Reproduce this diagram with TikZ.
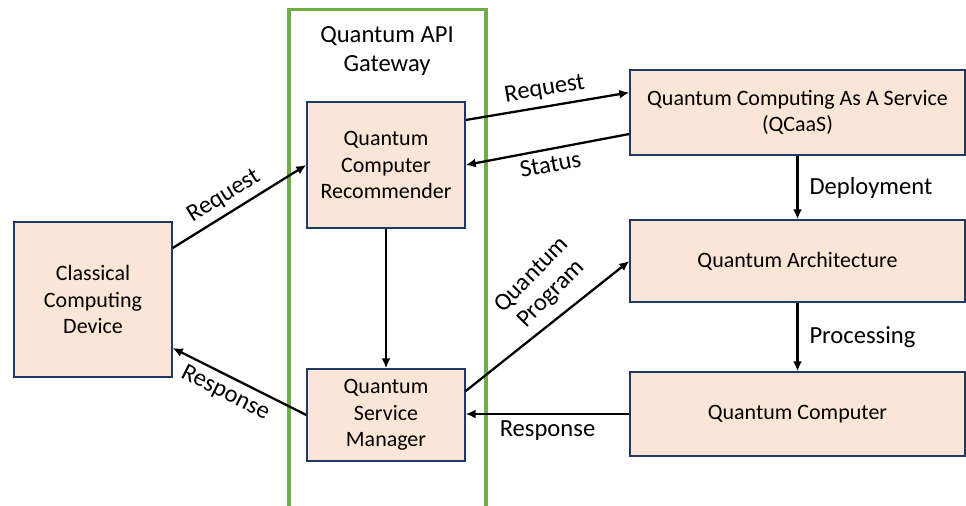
\documentclass[tikz,border=0pt]{standalone}
\usepackage{fontspec}
\setmainfont{Carlito}
\usetikzlibrary{arrows.meta}
\definecolor{boxfill}{HTML}{FBE5D6}
\definecolor{boxline}{HTML}{203864}
\definecolor{gatewaygreen}{HTML}{70AD47}
\begin{document}
\begin{tikzpicture}[>={Latex[length=2mm,width=1.8mm]},
        font=\fontsize{14}{16.5}\selectfont,
        compbox/.style={draw=boxline, fill=boxfill, line width=0.8pt, align=center, font=\fontsize{12.5}{15}\selectfont},
        flow/.style={->, line width=1.3pt}]
        \useasboundingbox (0,0) rectangle (19.32,-10.1);
        
        % gateway frame, open at the bottom
        \draw[gatewaygreen, line width=2pt] (5.78,-10.2) -- (5.78,-0.19) -- (9.72,-0.19) -- (9.72,-10.2);
        \node[align=center] (gw) at (7.74,-1.02) {Quantum API\\Gateway};
        
        \node[compbox, minimum width=3.16cm, minimum height=3.10cm] (cls) at (1.86,-5.99) {Classical\\Computing\\Device};
        \node[compbox, minimum width=3.16cm, minimum height=2.52cm] (qcr) at (7.72,-3.30) {Quantum\\Computer\\Recommender};
        \node[compbox, minimum width=3.16cm, minimum height=1.84cm] (qsm) at (7.72,-8.30) {Quantum\\Service\\Manager};
        \node[compbox, minimum width=6.70cm, minimum height=1.70cm] (qcaas) at (15.95,-2.25) {Quantum Computing As A Service\\(QCaaS)};
        \node[compbox, minimum width=6.70cm, minimum height=1.64cm] (qa) at (15.95,-5.22) {Quantum Architecture};
        \node[compbox, minimum width=6.70cm, minimum height=1.68cm] (qc) at (15.95,-8.28) {Quantum Computer};
        
        \draw[flow] ([yshift=1.03cm]cls.east) -- node[sloped, above, pos=0.45] {Request} (qcr.west);
        \draw[flow] (qsm.west) -- node[sloped, below, pos=0.55] {Response} ([yshift=-0.97cm]cls.east);
        \draw[flow] (qcr.south) -- (qsm.north);
        
        \draw[flow] ([yshift=0.9cm]qcr.east) -- node[sloped, above] {Request} ([yshift=0.4cm]qcaas.west);
        \draw[flow] ([yshift=-0.43cm]qcaas.west) -- node[sloped, below] {Status} (qcr.east);
        \draw[flow] ([yshift=0.48cm]qsm.east) -- node[sloped, above=3pt, align=center, pos=0.62, rotate=7, font=\fontsize{14}{15.5}\selectfont] {Quantum\\Program} (qa.west);
        \draw[flow] (qc.west) -- node[below] {Response} (qc.west -| qsm.east);
        
        \draw[flow] (qcaas.south) -- node[right, xshift=0.1cm] {Deployment} (qa.north);
        \draw[flow] (qa.south) -- node[right, xshift=0.1cm] {Processing} (qc.north);
    \end{tikzpicture}
\end{document}
